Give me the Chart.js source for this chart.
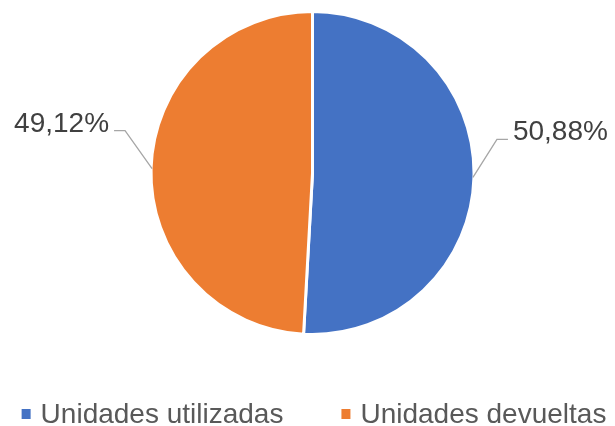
<!DOCTYPE html>
<html>
<head>
<meta charset="utf-8">
<script src="https://cdn.jsdelivr.net/npm/chart.js@4"></script>
<style>
  html, body { margin: 0; padding: 0; background: #ffffff; }
  #wrap { width: 615px; height: 426px; position: relative; }
</style>
</head>
<body>
<div id="wrap"><canvas id="chart"></canvas></div>
<script>
// Datos del gráfico
const categorias = ['Unidades utilizadas', 'Unidades devueltas'];
const porcentajes = [50.88, 49.12];
const etiquetas = ['50,88%', '49,12%'];
const colores = ['#4472C4', '#ED7D31'];

const ctx = document.getElementById('chart').getContext('2d');

// Etiquetas con líneas guía y leyenda inferior
const etiquetasPlugin = {
  id: 'etiquetasPlugin',
  afterDatasetsDraw(chart) {
    const c = chart.ctx;
    const arcs = chart.getDatasetMeta(0).data;
    c.save();
    arcs.forEach((arc, i) => {
      const p = arc.getProps(['x', 'y', 'startAngle', 'endAngle', 'outerRadius'], true);
      const mid = (p.startAngle + p.endAngle) / 2;
      const r = p.outerRadius - 1;
      const sx = p.x + Math.cos(mid) * r;
      const sy = p.y + Math.sin(mid) * r;
      const dir = Math.cos(mid) >= 0 ? 1 : -1;
      const ex = sx + dir * (dir > 0 ? 24 : 27);
      const ey = sy - 38;
      const hx = ex + dir * 11;
      c.strokeStyle = '#A6A6A6';
      c.lineWidth = 1.3;
      c.beginPath();
      c.moveTo(sx, sy);
      c.lineTo(ex, ey);
      c.lineTo(hx, ey);
      c.stroke();
      c.fillStyle = '#404040';
      c.font = '28px "Liberation Sans", Arial, sans-serif';
      c.textBaseline = 'alphabetic';
      c.textAlign = dir > 0 ? 'left' : 'right';
      c.fillText(etiquetas[i], hx + dir * 5, ey + 1);
    });

    // Leyenda
    c.font = '28px "Liberation Sans", Arial, sans-serif';
    const box = 9, gapTxt = 10, gapItem = 58;
    const anchos = categorias.map(t => c.measureText(t).width);
    let total = 0;
    anchos.forEach((w, i) => { total += box + gapTxt + w + (i > 0 ? gapItem : 0); });
    let x = 314 - total / 2;
    c.textAlign = 'left';
    categorias.forEach((t, i) => {
      c.fillStyle = colores[i];
      c.fillRect(x, 409, box, box + 1);
      c.fillStyle = '#595959';
      c.fillText(t, x + box + gapTxt, 423);
      x += box + gapTxt + anchos[i] + gapItem;
    });
    c.restore();
  }
};

new Chart(ctx, {
  type: 'pie',
  data: {
    labels: categorias,
    datasets: [{
      data: porcentajes,
      backgroundColor: colores,
      borderColor: '#ffffff',
      borderWidth: 3
    }]
  },
  options: {
    responsive: true,
    maintainAspectRatio: false,
    animation: false,
    layout: { padding: { left: 10, right: 0, top: 10, bottom: 90 } },
    plugins: {
      legend: { display: false },
      tooltip: { enabled: false }
    }
  },
  plugins: [etiquetasPlugin]
});
</script>
</body>
</html>
